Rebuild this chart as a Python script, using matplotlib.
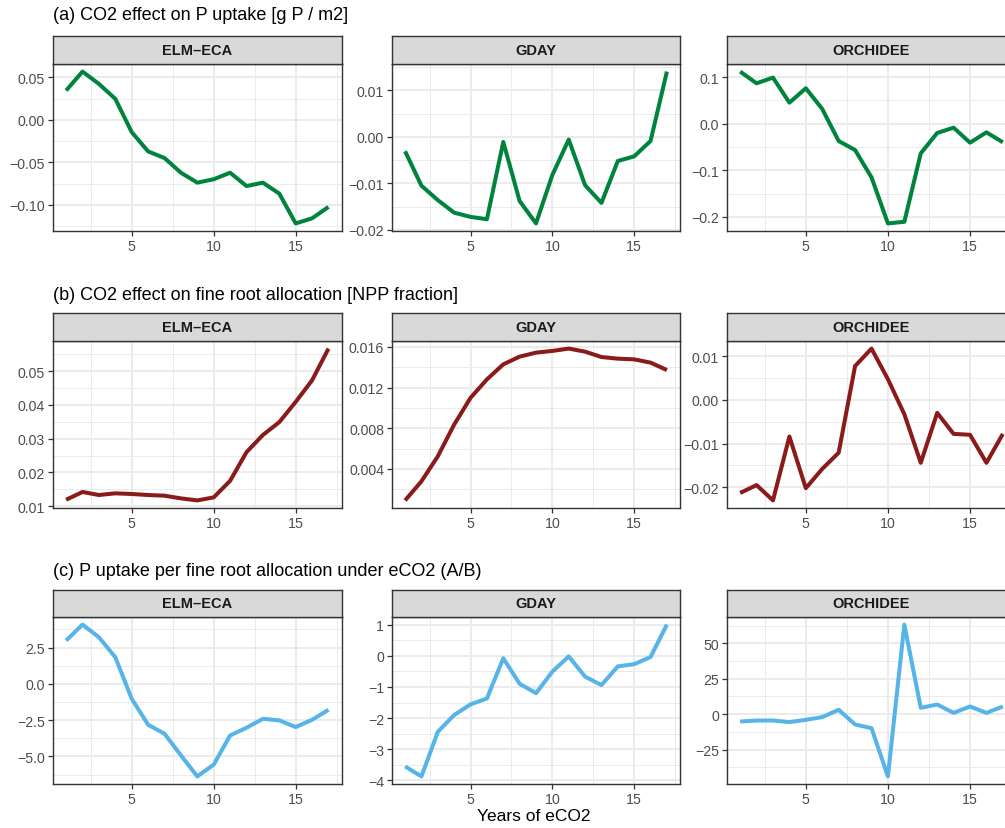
import matplotlib
matplotlib.use("Agg")
import matplotlib.pyplot as plt
from matplotlib.ticker import FuncFormatter
import numpy as np

plt.rcParams['font.family'] = ['Liberation Sans', 'DejaVu Sans']

# ---- data -------------------------------------------------------------
years = list(range(1, 18))
models = ["ELM\u2013ECA", "GDAY", "ORCHIDEE"]

# (a) CO2 effect on P uptake [g P / m2]
p_uptake_elm = [0.0345, 0.0568, 0.0423, 0.0247, -0.0145, -0.0372, -0.045, -0.0623,
                -0.074, -0.070, -0.0623, -0.078, -0.074, -0.0869, -0.122, -0.116, -0.1026]
p_uptake_gday = [-0.0031, -0.0105, -0.0136, -0.0163, -0.0172, -0.0177, -0.0011, -0.0138,
                 -0.0186, -0.0082, -0.0006, -0.0104, -0.0142, -0.0052, -0.0042, -0.0009, 0.0140]
p_uptake_orc = [0.1117, 0.0866, 0.0988, 0.0451, 0.0759, 0.0315, -0.0372, -0.0566,
                -0.1152, -0.214, -0.2105, -0.0637, -0.020, -0.0086, -0.0408, -0.0186, -0.040]

# (b) CO2 effect on fine root allocation [NPP fraction]
root_elm = [0.0119, 0.0142, 0.0133, 0.0138, 0.0136, 0.0133, 0.0131, 0.0123, 0.0117,
            0.0126, 0.0175, 0.0260, 0.0311, 0.0349, 0.0409, 0.0473, 0.0567]
root_gday = [0.00091, 0.00279, 0.00525, 0.00837, 0.0110, 0.01281, 0.01429, 0.01505, 0.01544,
             0.01561, 0.01584, 0.01554, 0.01501, 0.01485, 0.01478, 0.01446, 0.01373]
root_orc = [-0.0213, -0.0195, -0.0230, -0.0084, -0.0202, -0.0158, -0.0121, 0.0077, 0.0117,
            0.0047, -0.0033, -0.0144, -0.0030, -0.0078, -0.0080, -0.0144, -0.0078]

# (c) P uptake per fine root allocation under eCO2 (A/B)
ratio_elm = [2.98, 4.08, 3.21, 1.83, -1.03, -2.82, -3.44, -4.93, -6.38, -5.57, -3.56,
             -3.03, -2.41, -2.52, -2.98, -2.48, -1.79]
ratio_gday = [-3.55, -3.87, -2.44, -1.90, -1.56, -1.37, -0.08, -0.90, -1.20, -0.51, -0.02,
              -0.67, -0.94, -0.34, -0.27, -0.04, 1.0]
ratio_orc = [-5.2, -4.5, -4.5, -5.6, -4.0, -2.1, 3.1, -7.3, -9.9, -44.0, 63.3, 4.5, 6.8,
             0.9, 5.4, 0.9, 5.4]

row_titles = ["(a) CO2 effect on P uptake [g P / m2]",
              "(b) CO2 effect on fine root allocation [NPP fraction]",
              "(c) P uptake per fine root allocation under eCO2 (A/B)"]
row_colors = ["#00843D", "#8B1A1A", "#56B4E9"]
row_series = [[p_uptake_elm, p_uptake_gday, p_uptake_orc],
              [root_elm, root_gday, root_orc],
              [ratio_elm, ratio_gday, ratio_orc]]

x_ticks = [5, 10, 15]
y_ticks = [[[-0.10, -0.05, 0.00, 0.05], [-0.02, -0.01, 0.00, 0.01], [-0.2, -0.1, 0.0, 0.1]],
           [[0.01, 0.02, 0.03, 0.04, 0.05], [0.004, 0.008, 0.012, 0.016], [-0.02, -0.01, 0.00, 0.01]],
           [[-5.0, -2.5, 0.0, 2.5], [-4, -3, -2, -1, 0, 1], [-25, 0, 25, 50]]]
y_decimals = [[2, 2, 1], [2, 3, 2], [1, 0, 0]]
x_label = "Years of eCO2"

# ---- layout (pixels) --------------------------------------------------
W, H = 1005, 829
fig = plt.figure(figsize=(W / 100, H / 100), dpi=100)
fig.patch.set_facecolor("white")

col_x = [(53, 341.6), (392, 680), (727, 1016)]
panel_y = [(65, 232), (342, 509), (618, 785)]
strip_y = [(37, 65), (314, 342), (591, 618)]
title_y = [16, 296, 572]

BORDER = "#333333"
GRID = "#EBEBEB"


def rect(x0, y0, x1, y1):
    return [x0 / W, 1 - y1 / H, (x1 - x0) / W, (y1 - y0) / H]


def fmt(dec):
    return FuncFormatter(lambda v, p: f"{v:.{dec}f}".replace("-", "\u2212"))


for r in range(3):
    fig.text(53 / W, 1 - title_y[r] / H, row_titles[r], fontsize=13,
             color="black", ha="left", va="center")
    for c in range(3):
        x0, x1 = col_x[c]
        py0, py1 = panel_y[r]
        sy0, sy1 = strip_y[r]
        vals = row_series[r][c]

        ax = fig.add_axes(rect(x0, py0, x1, py1))
        ax.plot(years, vals, color=row_colors[r], lw=2.9,
                solid_joinstyle="round", solid_capstyle="butt", zorder=3)

        lo, hi = min(vals), max(vals)
        pad = 0.05 * (hi - lo)
        ax.set_xlim(0.2, 17.8)

        ax.set_xticks(x_ticks)
        ax.set_xticks([2.5, 7.5, 12.5, 17.5], minor=True)
        maj = y_ticks[r][c]
        step = maj[1] - maj[0]
        minors = np.arange(maj[0] - step / 2, maj[-1] + step, step)
        minors = [m for m in minors if lo - pad <= m <= hi + pad]
        ax.set_yticks(maj)
        ax.set_yticks(minors, minor=True)
        ax.yaxis.set_major_formatter(fmt(y_decimals[r][c]))
        ax.set_ylim(lo - pad, hi + pad)

        ax.grid(which="major", color=GRID, lw=1.4)
        ax.grid(which="minor", color=GRID, lw=0.7)
        ax.set_axisbelow(True)
        ax.tick_params(which="minor", length=0)
        ax.tick_params(which="major", length=3.5, width=0.9, color=BORDER,
                       labelcolor="#4D4D4D", labelsize=10.2, pad=2.2)
        for s in ax.spines.values():
            s.set_color(BORDER)
            s.set_linewidth(1.0)

        sax = fig.add_axes(rect(x0, sy0, x1, sy1))
        sax.set_facecolor("#D9D9D9")
        sax.set_xticks([])
        sax.set_yticks([])
        for s in sax.spines.values():
            s.set_color(BORDER)
            s.set_linewidth(1.0)
        sax.text(0.5, 0.5, models[c], transform=sax.transAxes, ha="center",
                 va="center", fontsize=10.5, fontweight="bold", color="#1A1A1A")

fig.text(534 / W, 1 - 817 / H, x_label, fontsize=12.5, ha="center", va="center")

fig.savefig("out.png", dpi=100)
